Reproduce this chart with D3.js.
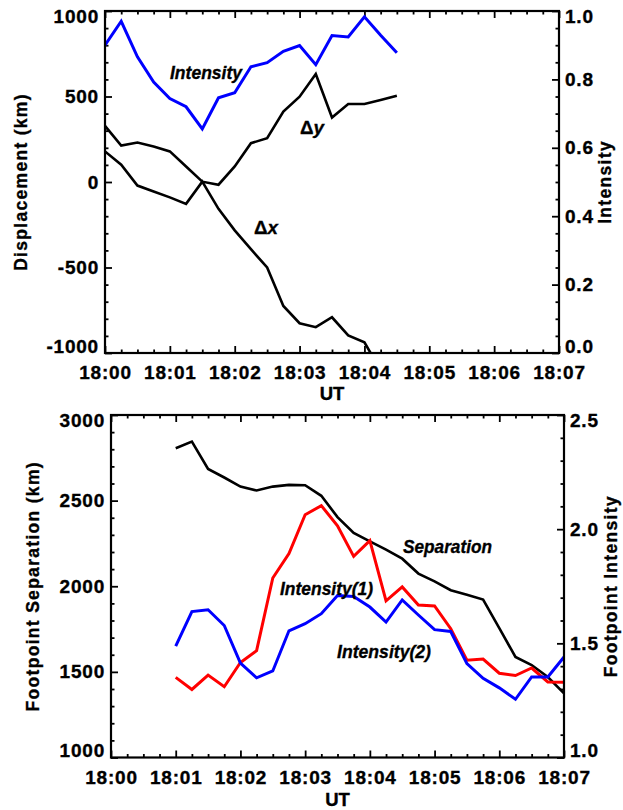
<!DOCTYPE html>
<html><head><meta charset="utf-8">
<script src="https://cdn.jsdelivr.net/npm/d3@7"></script>
<style>
body{margin:0;background:#fff}
svg{display:block}
text{font-family:"Liberation Sans",Arial,Helvetica,sans-serif;font-weight:bold;fill:#000;stroke:#000;stroke-width:0.35px}
</style>
</head><body>
<svg id="c" width="623" height="810"></svg>
<script>
// ---------- data ----------
const xTickLabels = ["18:00","18:01","18:02","18:03","18:04","18:05","18:06","18:07"];

const topTimes = ["18:00:00","18:00:15","18:00:30","18:00:45","18:01:00","18:01:15","18:01:30","18:01:45",
  "18:02:00","18:02:15","18:02:30","18:02:45","18:03:00","18:03:15","18:03:30","18:03:45",
  "18:04:00","18:04:15","18:04:30"];
const topIntensity = [0.900,0.970,0.866,0.792,0.744,0.720,0.655,0.746,0.761,0.837,0.849,0.882,0.899,0.843,0.928,0.924,0.983,0.929,0.878];
const deltaY = [328,213,231,208,179,91,2,-16,91,227,256,412,499,631,377,456,456,480,505];
const deltaXTimes = ["18:00:00","18:00:15","18:00:30","18:00:45","18:01:00","18:01:15","18:01:30","18:01:45",
  "18:02:00","18:02:15","18:02:30","18:02:45","18:03:00","18:03:15","18:03:30","18:03:45",
  "18:04:00","18:04:15"];
const deltaX = [179,101,-21,-55,-90,-128,2,-157,-283,-393,-500,-725,-826,-849,-791,-897,-938,-1100];

const botTimes = ["18:01:00","18:01:15","18:01:30","18:01:45","18:02:00","18:02:15","18:02:30","18:02:45",
  "18:03:00","18:03:15","18:03:30","18:03:45","18:04:00","18:04:15","18:04:30","18:04:45",
  "18:05:00","18:05:15","18:05:30","18:05:45","18:06:00","18:06:15","18:06:30","18:06:45","18:07:00"];
const separation = [2806,2845,2685,2635,2582,2559,2582,2592,2590,2528,2404,2311,2262,2214,2161,2074,2029,1977,1951,1922,1755,1587,1540,1470,1375];
const intensity1 = [1.351,1.298,1.361,1.310,1.416,1.468,1.786,1.893,2.063,2.103,2.015,1.881,1.950,1.686,1.747,1.668,1.664,1.564,1.426,1.431,1.369,1.359,1.392,1.331,1.330];
const intensity2 = [1.488,1.639,1.647,1.578,1.413,1.349,1.379,1.555,1.586,1.630,1.709,1.705,1.659,1.593,1.690,1.624,1.560,1.552,1.411,1.347,1.305,1.255,1.353,1.353,1.440];

const topLeftTicks = [-1000,-500,0,500,1000];
const topLeftLabels = ["-1000","-500","0","500","1000"];
const topRightTicks = [0,0.2,0.4,0.6,0.8,1.0];
const topRightLabels = ["0.0","0.2","0.4","0.6","0.8","1.0"];
const botLeftTicks = [1000,1500,2000,2500,3000];
const botLeftLabels = ["1000","1500","2000","2500","3000"];
const botRightTicks = [1.0,1.5,2.0,2.5];
const botRightLabels = ["1.0","1.5","2.0","2.5"];

// ---------- helpers ----------
const toMin = s => { const p = s.split(":").map(Number); return (p[0]-18)*60 + p[1] + p[2]/60; };
const svg = d3.select("#c");

function axisStyle(g){
  g.select(".domain").remove();
  g.selectAll(".tick line").attr("stroke","#000").attr("stroke-width",1.8);
  g.selectAll(".tick text").style("font-size","19px").style("letter-spacing","0.8px")
    .style("font-family","'Liberation Sans',Arial,sans-serif").style("font-weight","bold")
    .attr("fill","#000").attr("stroke","#000").attr("stroke-width",0.35);
}
function nudgeEnds(g){
  const t = g.selectAll(".tick text").nodes();
  if (!t.length) return;
  d3.select(t[0]).attr("transform","translate(0,-7)");
  d3.select(t[t.length-1]).attr("transform","translate(0,5)");
}

function panel(c){
  const x = d3.scaleLinear([0,7],[c.x0,c.x1]);
  const yl = d3.scaleLinear(c.lDom,[c.y1,c.y0]);
  const yr = d3.scaleLinear(c.rDom,[c.y1,c.y0]);
  const g = svg.append("g");
  const clipId = "clip"+c.id;
  svg.append("clipPath").attr("id",clipId).append("rect")
    .attr("x",c.x0).attr("y",c.y0).attr("width",c.x1-c.x0).attr("height",c.y1-c.y0);

  const majX = d3.range(0,8);
  const minX = d3.range(0,28).map(i=>i*0.25).filter(v=>v%1!==0);

  g.append("g").attr("transform",`translate(0,${c.y1})`)
    .call(d3.axisBottom(x).tickValues(majX).tickFormat((d,i)=>xTickLabels[i]).tickSize(-7).tickPadding(13)).call(axisStyle);
  g.append("g").attr("transform",`translate(0,${c.y1})`)
    .call(d3.axisBottom(x).tickValues(minX).tickFormat("").tickSize(-3.5)).call(axisStyle);
  g.append("g").attr("transform",`translate(0,${c.y0})`)
    .call(d3.axisTop(x).tickValues(majX).tickFormat("").tickSize(-7)).call(axisStyle);
  g.append("g").attr("transform",`translate(0,${c.y0})`)
    .call(d3.axisTop(x).tickValues(minX).tickFormat("").tickSize(-3.5)).call(axisStyle);
  const la = g.append("g").attr("transform",`translate(${c.x0},0)`)
    .call(d3.axisLeft(yl).tickValues(c.lTicks).tickFormat((d,i)=>c.lLabels[i]).tickSize(-7).tickPadding(6)).call(axisStyle);
  nudgeEnds(la);
  g.append("g").attr("transform",`translate(${c.x0},0)`)
    .call(d3.axisLeft(yl).tickValues(c.lMinor).tickFormat("").tickSize(-3.5)).call(axisStyle);
  const ra = g.append("g").attr("transform",`translate(${c.x1},0)`)
    .call(d3.axisRight(yr).tickValues(c.rTicks).tickFormat((d,i)=>c.rLabels[i]).tickSize(-7).tickPadding(6)).call(axisStyle);
  nudgeEnds(ra);
  g.append("g").attr("transform",`translate(${c.x1},0)`)
    .call(d3.axisRight(yr).tickValues(c.rMinor).tickFormat("").tickSize(-3.5)).call(axisStyle);

  const lg = g.append("g").attr("clip-path",`url(#${clipId})`);
  c.series.forEach(s=>{
    const sc = s.axis==="r" ? yr : yl;
    const pts = s.times.map((t,i)=>[x(toMin(t)), sc(s.values[i])]);
    lg.append("path").attr("d",d3.line()(pts)).attr("fill","none")
      .attr("stroke",s.color).attr("stroke-width",s.w).attr("stroke-linejoin","miter");
  });

  g.append("rect").attr("x",c.x0).attr("y",c.y0).attr("width",c.x1-c.x0).attr("height",c.y1-c.y0)
    .attr("fill","none").attr("stroke","#000").attr("stroke-width",2.2);

  g.append("text").attr("transform",`translate(${c.lTitleX},${(c.y0+c.y1)/2}) rotate(-90)`)
    .attr("text-anchor","middle").style("font-size","17.5px").style("letter-spacing","1.3px").text(c.lTitle);
  g.append("text").attr("transform",`translate(${c.rTitleX},${(c.y0+c.y1)/2}) rotate(-90)`)
    .attr("text-anchor","middle").style("font-size","17.5px").style("letter-spacing","1.3px").text(c.rTitle);
  g.append("text").attr("x",(c.x0+c.x1)/2).attr("y",c.utY).attr("text-anchor","middle")
    .style("font-size","18.5px").text("UT");

  c.labels.forEach(l=>{
    const t = g.append("text").attr("x",l.x).attr("y",l.y).style("font-size","19px")
      .attr("textLength",l.w).attr("lengthAdjust","spacingAndGlyphs");
    l.parts.forEach(p=>t.append("tspan").style("font-style",p.it?"italic":"normal").text(p.t));
  });
}

panel({
  id:"top", x0:105, x1:559, y0:11, y1:353,
  lDom:[-1000,1000], rDom:[0,1],
  lTicks:topLeftTicks, lLabels:topLeftLabels, lMinor:d3.range(-1000,1001,100).filter(v=>v%500!==0),
  rTicks:topRightTicks, rLabels:topRightLabels, rMinor:d3.range(0,21).map(i=>i*0.05).filter((v,i)=>i%4!==0),
  lTitle:"Displacement (km)", lTitleX:27, rTitle:"Intensity", rTitleX:611, utY:400,
  series:[
    {times:topTimes, values:topIntensity, axis:"r", color:"#0000ff", w:3},
    {times:topTimes, values:deltaY, axis:"l", color:"#000", w:2.6},
    {times:deltaXTimes, values:deltaX, axis:"l", color:"#000", w:2.6}
  ],
  labels:[
    {x:170,y:79,w:72,parts:[{t:"Intensity",it:true}]},
    {x:300,y:134,w:24,parts:[{t:"Δ",it:false},{t:"y",it:true}]},
    {x:254,y:234,w:24,parts:[{t:"Δ",it:false},{t:"x",it:true}]}
  ]
});

panel({
  id:"bot", x0:111, x1:564, y0:415, y1:757.5,
  lDom:[1000,3000], rDom:[1.0,2.5],
  lTicks:botLeftTicks, lLabels:botLeftLabels, lMinor:d3.range(1000,3001,100).filter(v=>v%500!==0),
  rTicks:botRightTicks, rLabels:botRightLabels, rMinor:d3.range(0,16).map(i=>1+i*0.1).filter((v,i)=>i%5!==0),
  lTitle:"Footpoint Separation (km)", lTitleX:39, rTitle:"Footpoint Intensity", rTitleX:617, utY:806,
  series:[
    {times:botTimes, values:separation, axis:"l", color:"#000", w:2.6},
    {times:botTimes, values:intensity1, axis:"r", color:"#ff0000", w:3},
    {times:botTimes, values:intensity2, axis:"r", color:"#0000ff", w:3}
  ],
  labels:[
    {x:403,y:553,w:89,parts:[{t:"Separation",it:true}]},
    {x:280,y:595,w:93,parts:[{t:"Intensity(1)",it:true}]},
    {x:337,y:658,w:94,parts:[{t:"Intensity(2)",it:true}]}
  ]
});
</script>
</body></html>
